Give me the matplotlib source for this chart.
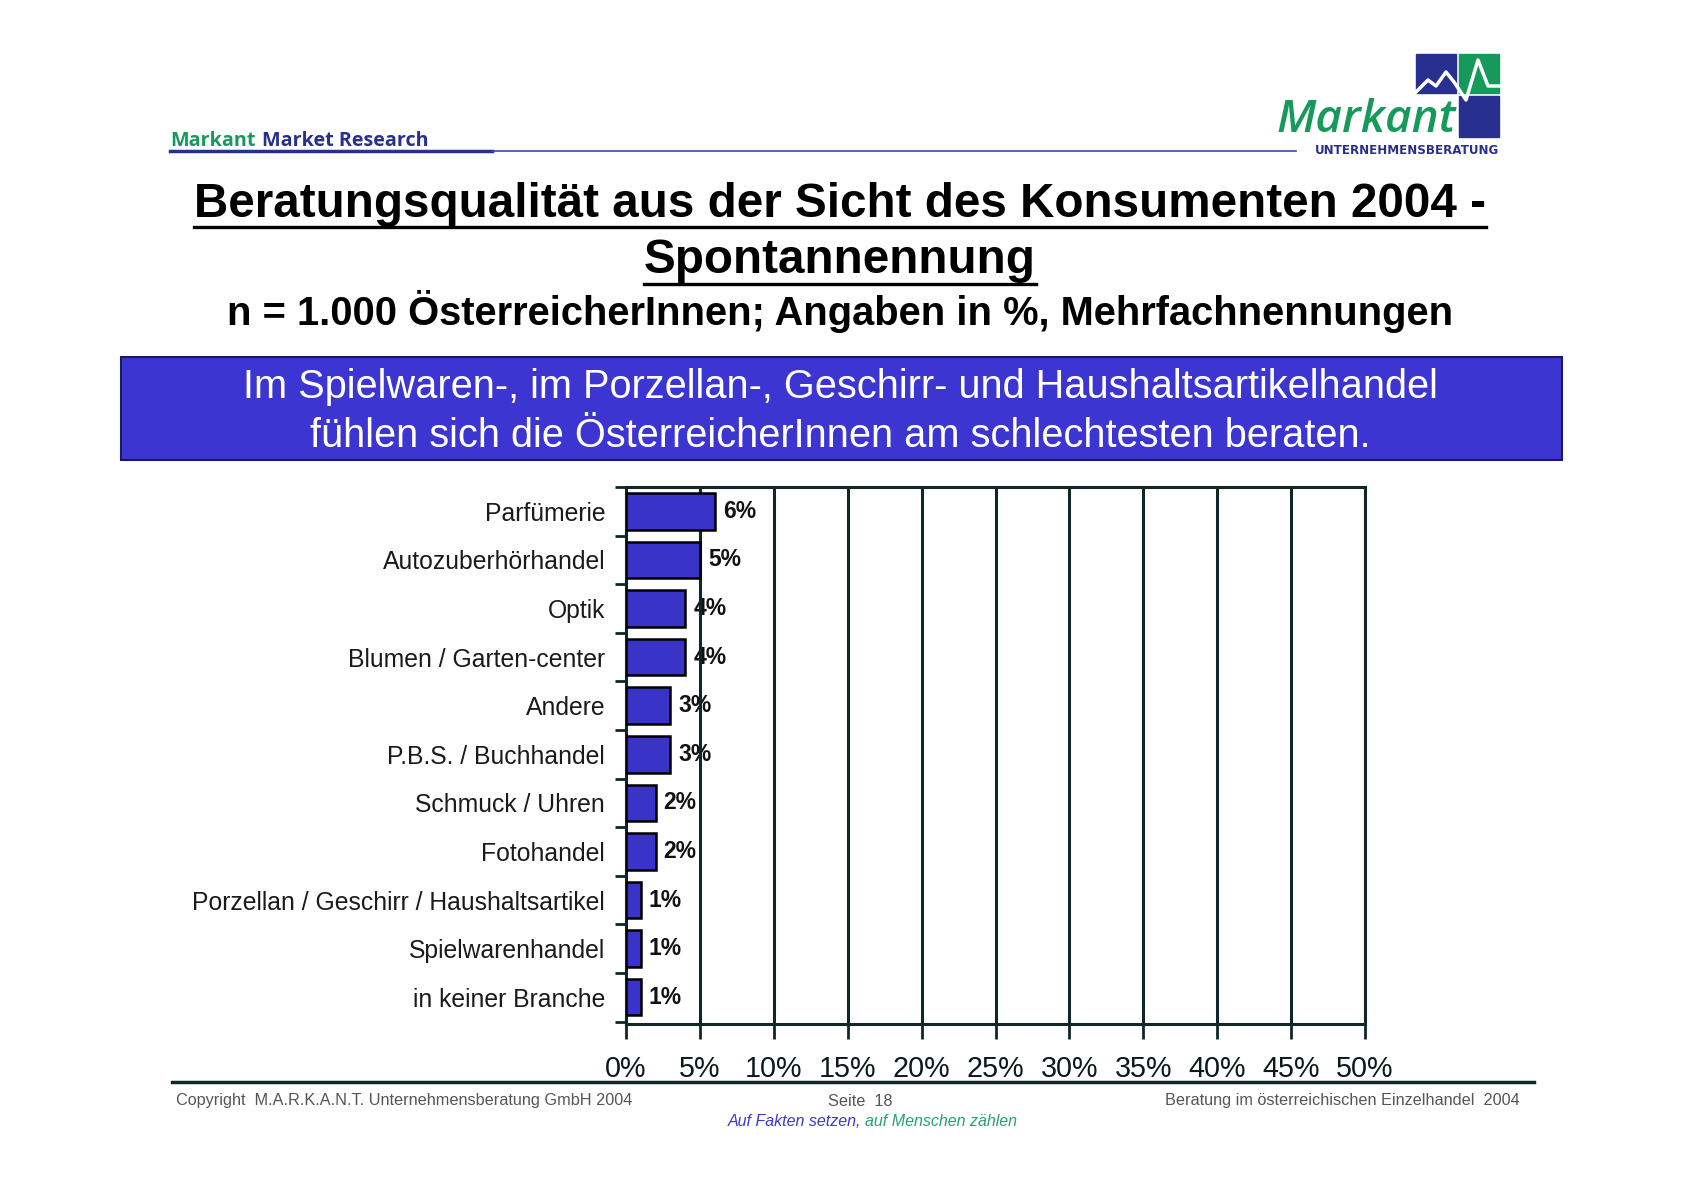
import matplotlib
matplotlib.use('Agg')
import matplotlib.pyplot as plt
from matplotlib.patches import Rectangle
from matplotlib.lines import Line2D

plt.rcParams['font.family'] = ['Liberation Sans', 'DejaVu Sans']

# Daten
branchen = ['Parfümerie', 'Autozuberhörhandel', 'Optik', 'Blumen / Garten-center',
            'Andere', 'P.B.S. / Buchhandel', 'Schmuck / Uhren', 'Fotohandel',
            'Porzellan / Geschirr / Haushaltsartikel', 'Spielwarenhandel', 'in keiner Branche']
werte = [6, 5, 4, 4, 3, 3, 2, 2, 1, 1, 1]
xticks = [0, 5, 10, 15, 20, 25, 30, 35, 40, 45, 50]

W, H = 1684, 1189
fig = plt.figure(figsize=(W / 100, H / 100), dpi=100)

def fx(x):
    return x / W

def fy(y):
    return 1 - y / H

navy = '#27308f'
green = '#159a5c'
barblue = '#3a33c8'
dark = '#0f2727'

# Kopfzeile
t1 = fig.text(fx(170), fy(146), 'Markant', color=green, fontsize=14.2, fontweight='bold',
              va='baseline', family=['Open Sans', 'DejaVu Sans'])
fig.canvas.draw()
bb = t1.get_window_extent()
fig.text(bb.x1 / W + 0.004, fy(146), 'Market Research', color=navy, fontsize=14.2,
         fontweight='bold', va='baseline', family=['Open Sans', 'DejaVu Sans'])
fig.add_artist(Line2D([fx(170), fx(492)], [fy(151), fy(151)], color=navy, lw=2.5))
fig.add_artist(Line2D([fx(492), fx(1296)], [fy(151), fy(151)], color='#3a4aa8', lw=1.2))

# Logo
fig.add_artist(Rectangle((fx(1416), fy(93)), fx(40), 39 / H, color=navy))
fig.add_artist(Rectangle((fx(1459), fy(93)), fx(40), 39 / H, color=green))
fig.add_artist(Rectangle((fx(1459), fy(137)), fx(40), 41 / H, color=navy))
fig.add_artist(Line2D([fx(1416), fx(1428), fx(1436), fx(1446), fx(1454), fx(1466), fx(1478), fx(1488), fx(1499)],
                      [fy(92), fy(80), fy(86), fy(72), fy(82), fy(100), fy(60), fy(86), fy(86)],
                      color='white', lw=2.5))
fig.text(fx(1276), fy(132), 'Markant', color=green, fontsize=33, style='italic',
         fontweight='semibold', va='baseline', family=['Open Sans', 'DejaVu Sans'])
fig.text(fx(1499), fy(150), 'UNTERNEHMENSBERATUNG', color=navy, fontsize=8.6,
         fontweight='bold', ha='right', va='center', family=['DejaVu Sans'])

# Titel
def underlined(x, y, s, size):
    t = fig.text(fx(x), fy(y), s, ha='center', va='baseline', fontsize=size,
                 fontweight='bold', color='black')
    fig.canvas.draw()
    b = t.get_window_extent()
    yl = b.y0 - 0.5
    fig.add_artist(Line2D([b.x0 / W, b.x1 / W], [yl / H, yl / H], color='black', lw=2.4))

underlined(840, 217, 'Beratungsqualität aus der Sicht des Konsumenten 2004 -', 34.3)
underlined(840, 273, 'Spontannennung', 34.3)
fig.text(fx(840), fy(325), 'n = 1.000 ÖsterreicherInnen; Angaben in %, Mehrfachnennungen',
         ha='center', va='baseline', fontsize=28.7, fontweight='bold')

# Banner
fig.add_artist(Rectangle((fx(121), fy(460)), fx(1562 - 121), 103 / H,
                         facecolor='#3c35d2', edgecolor='#1a1a60', lw=1.5))
fig.text(fx(840), fy(387), 'Im Spielwaren-, im Porzellan-, Geschirr- und Haushaltsartikelhandel',
         ha='center', va='center', fontsize=28.6, color='white')
fig.text(fx(840), fy(436), 'fühlen sich die ÖsterreicherInnen am schlechtesten beraten.',
         ha='center', va='center', fontsize=28.6, color='white')

# Diagramm
ax = fig.add_axes([fx(626), fy(1024), fx(1365 - 626), (1024 - 487) / H])
y = list(range(len(branchen)))
ax.barh(y, werte, height=0.75, color=barblue, edgecolor='black', lw=1.8, zorder=4)
for v in xticks[1:]:
    ax.axvline(v, color=dark, lw=2.2, zorder=3)
for i, v in enumerate(werte):
    ax.text(v + 0.55, i, f'{v}%', va='center', ha='left', fontsize=16.5,
            fontweight='bold', color='#111111', zorder=2)
ax.set_xlim(0, 50)
ax.set_ylim(10.55, -0.47)
ax.set_xticks(xticks)
ax.set_xticklabels([f'{v}%' for v in xticks], fontsize=20.7, color='#0a1a1a')
ax.set_yticks([i + 0.5 for i in range(-1, len(branchen))])
ax.set_yticklabels([])
ax.set_yticks(y, minor=True)
ax.set_yticklabels(branchen, minor=True, fontsize=17.8, color='#1a1a1a')
ax.tick_params(axis='y', which='minor', length=0, pad=15)
ax.tick_params(axis='y', which='major', length=8, width=2, color=dark, direction='out')
ax.tick_params(axis='x', length=11, width=2, color=dark, direction='out', pad=11)
for s in ax.spines.values():
    s.set_color(dark)
    s.set_linewidth(2.2)

# Fusszeile
fig.add_artist(Line2D([fx(172), fx(1534)], [fy(1082), fy(1082)], color=dark, lw=2.5))
fig.text(fx(176), fy(1101), 'Copyright  M.A.R.K.A.N.T. Unternehmensberatung GmbH 2004',
         fontsize=11.7, color='#555555', va='center')
fig.text(fx(860), fy(1101), 'Seite  18', fontsize=11.7, color='#555555', va='center', ha='center')
fig.text(fx(1520), fy(1101), 'Beratung im österreichischen Einzelhandel  2004',
         fontsize=11.7, color='#555555', va='center', ha='right')
ta = fig.text(fx(728), fy(1122), 'Auf Fakten setzen,', fontsize=11.5, color='#3a3ad0',
              style='italic', va='center')
fig.canvas.draw()
bb = ta.get_window_extent()
fig.text(bb.x1 / W + 0.002, fy(1122), 'auf Menschen zählen', fontsize=11.5, color='#2aa070',
         style='italic', va='center')

fig.savefig('out.png', dpi=100)
